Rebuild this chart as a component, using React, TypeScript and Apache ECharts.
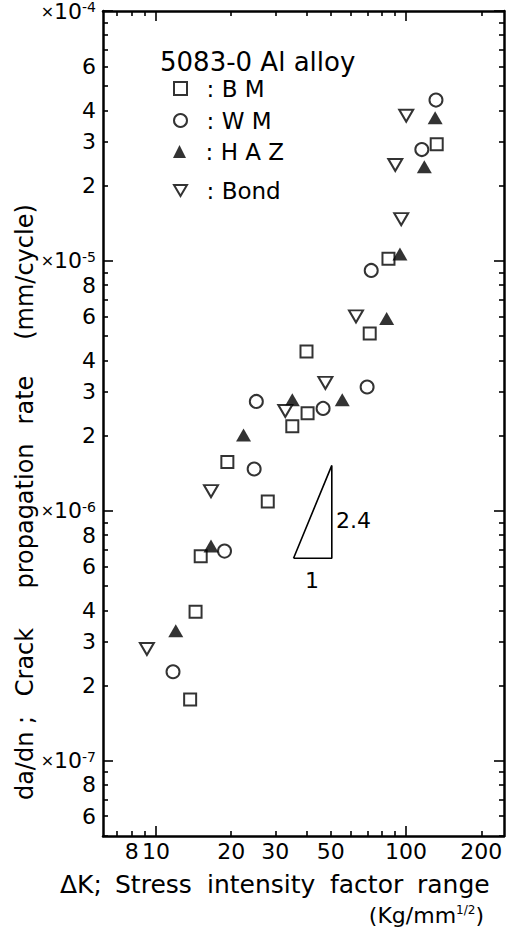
import React, { useEffect, useRef } from 'react';
import * as echarts from 'echarts';

// ΔK (Kg/mm^1/2) and da/dN (mm/cycle)
const bmK = [132.7, 85.1, 71.6, 40.0, 40.4, 35.1, 19.3, 28.0, 15.1, 14.4, 13.7];
const bmRate = [2.93e-5, 1.02e-5, 5.12e-6, 4.34e-6, 2.46e-6, 2.18e-6, 1.57e-6, 1.09e-6, 6.58e-7, 3.95e-7, 1.76e-7];
const wmK = [131.8, 115.7, 72.6, 69.9, 25.2, 46.6, 24.7, 18.8, 11.7];
const wmRate = [4.4e-5, 2.79e-5, 9.16e-6, 3.13e-6, 2.74e-6, 2.57e-6, 1.47e-6, 6.9e-7, 2.27e-7];
const hazK = [130.8, 118.4, 94.6, 83.7, 35.1, 55.6, 22.4, 16.6, 12.0];
const hazRate = [3.74e-5, 2.38e-5, 1.066e-5, 5.89e-6, 2.78e-6, 2.78e-6, 2.01e-6, 7.23e-7, 3.31e-7];
const bondK = [100.2, 90.6, 95.7, 63.1, 47.6, 32.9, 16.6, 9.2];
const bondRate = [3.81e-5, 2.42e-5, 1.47e-5, 6.0e-6, 3.25e-6, 2.51e-6, 1.2e-6, 2.8e-7];

// slope triangle (2.4 : 1)
const slopeK = [35.5, 50.5, 50.5, 35.5];
const slopeRate = [6.46e-7, 6.46e-7, 1.52e-6, 6.46e-7];

// axes
const xRange = [6.14, 246.6];
const yRange = [5.0e-8, 1.0e-4];
const xTickLabels = [8, 10, 20, 30, 50, 100, 200];
const yTickLabels = [
  6e-8, 8e-8, 1e-7, 2e-7, 3e-7, 4e-7, 6e-7, 8e-7, 1e-6, 2e-6, 3e-6, 4e-6, 6e-6, 8e-6,
  1e-5, 2e-5, 3e-5, 4e-5, 6e-5, 1e-4,
];
const seriesNames = ['BM', 'WM', 'HAZ', 'Bond'];
const legendTexts = ['B M', 'W M', 'H A Z', 'Bond'];
const yTitleWords = ['da/dn ;', 'Crack', 'propagation', 'rate', '(mm/cycle)'];
const yTitleCenters = [758, 662, 516, 400, 272];
const xTitleWords = ['ΔK;', 'Stress', 'intensity', 'factor', 'range'];
const xTitleLefts = [60, 115, 207, 330, 417];

const FONT = 'DejaVu Sans';
const lg = (v: number) => Math.log10(v);

function logTicks(lo: number, hi: number, decadesOnly: boolean) {
  const out: number[] = [];
  for (let e = Math.floor(lg(lo)); e <= Math.ceil(lg(hi)); e++) {
    for (let m = 1; m <= 9; m++) {
      if (decadesOnly !== (m === 1)) continue;
      const v = m * Math.pow(10, e);
      if (v >= lo * 0.9999 && v <= hi * 1.0001) out.push(lg(v));
    }
  }
  return out;
}

function pairs(xs: number[], ys: number[]) {
  return xs.map((x, i) => [lg(x), lg(ys[i])]);
}

export default function App() {
  const ref = useRef<HTMLDivElement>(null);
  useEffect(() => {
    if (!ref.current) return;
    const chart = echarts.init(ref.current, undefined, { renderer: 'svg' });
    const xMin = lg(xRange[0]);
    const xMax = lg(xRange[1]);
    const yMin = lg(yRange[0]);
    const yMax = lg(yRange[1]);
    const xMinor = logTicks(xRange[0], xRange[1], false);
    const xMajor = logTicks(xRange[0], xRange[1], true);
    const yMinor = logTicks(yRange[0], yRange[1], false);
    const yMajor = logTicks(yRange[0], yRange[1], true);
    const lineStyle = { color: '#000', width: 2.5 };

    const xAxisBase = (position: string, showLine: boolean, ticks: number[], len: number, labels: boolean) => ({
      type: 'value',
      position,
      min: xMin,
      max: xMax,
      splitLine: { show: false },
      axisLine: { show: showLine, lineStyle },
      axisTick: { show: true, inside: true, length: len, customValues: ticks, lineStyle: { color: '#000', width: 1.6 } },
      axisLabel: labels
        ? {
            show: true,
            customValues: xTickLabels.map(lg),
            formatter: (v: number) => String(Math.round(Math.pow(10, v))),
            fontSize: 22,
            fontFamily: FONT,
            color: '#000',
            margin: 4,
          }
        : { show: false },
    });
    const yAxisBase = (position: string, showLine: boolean, ticks: number[], len: number, labels: boolean) => ({
      type: 'value',
      position,
      min: yMin,
      max: yMax,
      splitLine: { show: false },
      axisLine: { show: showLine, lineStyle },
      axisTick: { show: true, inside: true, length: len, customValues: ticks, lineStyle: { color: '#000', width: 1.6 } },
      axisLabel: labels
        ? {
            show: true,
            customValues: yTickLabels.map(lg),
            formatter: (v: number) => {
              const e = Math.round(v);
              if (Math.abs(v - e) < 1e-6) return '{x|×}{d|10}{s|' + e + '}';
              return String(Math.round(Math.pow(10, v - Math.floor(v))));
            },
            fontSize: 22,
            fontFamily: FONT,
            color: '#000',
            rich: {
              x: { fontSize: 16, fontFamily: FONT, color: '#000' },
              d: { fontSize: 22, fontFamily: FONT, color: '#000' },
              s: { fontSize: 14, fontFamily: FONT, color: '#000', verticalAlign: 'top' },
            },
            margin: 7,
          }
        : { show: false },
    });

    const hollow = { color: '#fff', borderColor: '#000', borderWidth: 2 };
    const common = { type: 'scatter', xAxisIndex: 0, yAxisIndex: 0, z: 5 };

    const legendTops = [72, 104, 135, 174];

    chart.setOption({
      animation: false,
      backgroundColor: '#fff',
      grid: { left: 103, top: 11, width: 401, height: 825, containLabel: false },
      xAxis: [
        xAxisBase('bottom', true, xMinor, 5, true),
        xAxisBase('bottom', false, xMajor, 10, false),
        xAxisBase('top', true, xMinor, 5, false),
        xAxisBase('top', false, xMajor, 10, false),
      ],
      yAxis: [
        yAxisBase('left', true, yMinor, 5, true),
        yAxisBase('left', false, yMajor, 10, false),
        yAxisBase('right', true, yMinor, 5, false),
        yAxisBase('right', false, yMajor, 10, false),
      ],
      legend: seriesNames.map((name, i) => ({
        data: [name],
        left: 168,
        top: legendTops[i],
        orient: 'vertical',
        itemWidth: 13,
        itemHeight: 13,
        selectedMode: false,
        formatter: () => '  : ' + legendTexts[i],
        textStyle: { fontSize: 23, fontFamily: FONT, color: '#000' },
      })),
      series: [
        { ...common, name: 'BM', symbol: 'rect', symbolSize: 12, itemStyle: hollow, data: pairs(bmK, bmRate) },
        { ...common, name: 'WM', symbol: 'circle', symbolSize: 13, itemStyle: hollow, data: pairs(wmK, wmRate) },
        { ...common, name: 'HAZ', symbol: 'triangle', symbolSize: [15, 13], itemStyle: { color: '#000' }, data: pairs(hazK, hazRate) },
        {
          ...common,
          name: 'Bond',
          symbol: 'path://M0,0 L14,0 L7,12 Z',
          symbolSize: [14, 12],
          itemStyle: hollow,
          data: pairs(bondK, bondRate),
        },
        {
          type: 'line',
          name: 'slope',
          symbol: 'none',
          lineStyle: { color: '#000', width: 1.6 },
          data: pairs(slopeK, slopeRate),
          z: 4,
        },
      ],
      graphic: [
        {
          type: 'text',
          x: 160,
          y: 62,
          style: { text: '5083-0 Al alloy', fontSize: 26, fontFamily: FONT, fill: '#000', verticalAlign: 'middle' },
        },
        {
          type: 'text',
          x: 336,
          y: 520,
          style: { text: '2.4', fontSize: 22, fontFamily: FONT, fill: '#000', verticalAlign: 'middle' },
        },
        {
          type: 'text',
          x: 312,
          y: 580,
          style: { text: '1', fontSize: 22, fontFamily: FONT, fill: '#000', align: 'center', verticalAlign: 'middle' },
        },
        ...yTitleWords.map((w, i) => ({
          type: 'text',
          x: 25,
          y: yTitleCenters[i],
          rotation: Math.PI / 2,
          style: { text: w, fontSize: 24, fontFamily: FONT, fill: '#000', align: 'center', verticalAlign: 'middle' },
        })),
        ...xTitleWords.map((w, i) => ({
          type: 'text',
          x: xTitleLefts[i],
          y: 884,
          style: { text: w, fontSize: 25, fontFamily: FONT, fill: '#000', verticalAlign: 'middle' },
        })),
        {
          type: 'text',
          x: 484,
          y: 915,
          style: {
            text: '(Kg/mm{s|1/2})',
            fontSize: 22,
            fontFamily: FONT,
            fill: '#000',
            align: 'right',
            verticalAlign: 'middle',
            rich: { s: { fontSize: 12, fontFamily: FONT, fill: '#000', verticalAlign: 'top' } },
          },
        },
      ],
    });
    return () => chart.dispose();
  }, []);
  return <div ref={ref} style={{ position: 'absolute', left: 0, top: 0, width: 511, height: 935 }} />;
}
